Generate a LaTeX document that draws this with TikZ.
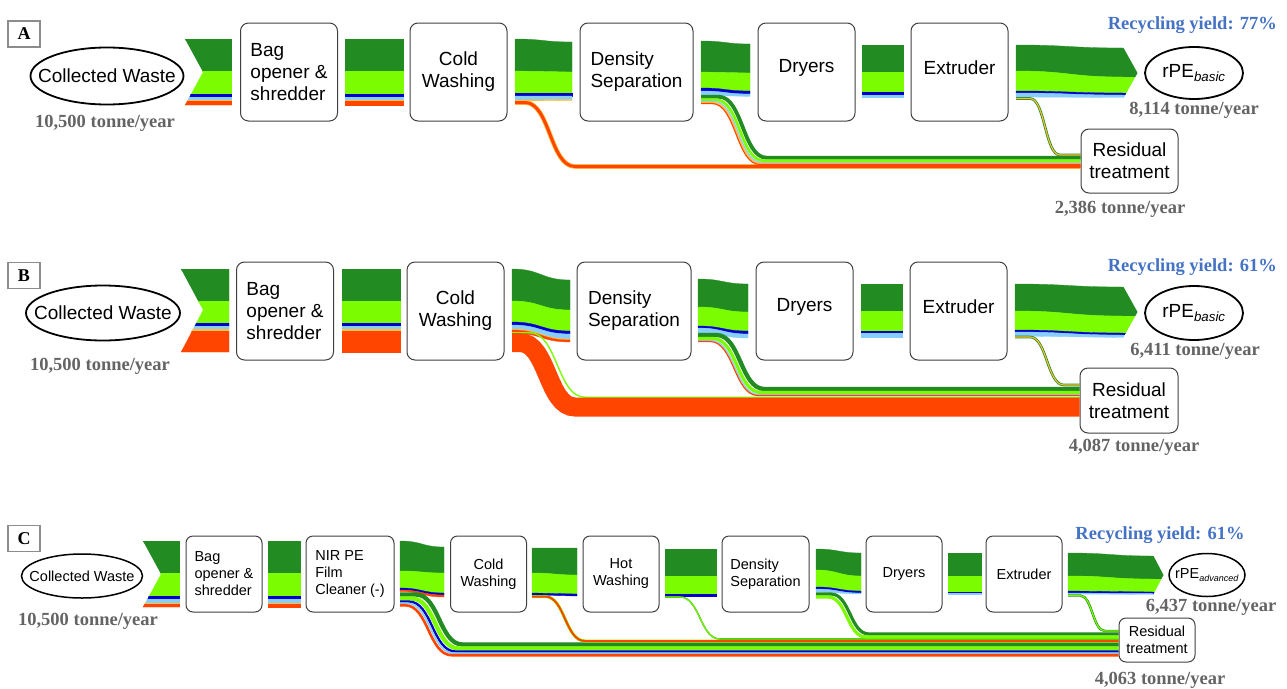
\documentclass[tikz,border=0pt]{standalone}
\usepackage{fontspec}
\setmainfont{Liberation Serif}
\setsansfont{Liberation Sans}
\usepackage{xcolor}
\usepackage{tikz}
\usetikzlibrary{shapes.geometric}

\definecolor{dkg}{RGB}{34,139,34}
\definecolor{ltg}{RGB}{124,252,0}
\definecolor{blu}{RGB}{0,0,205}
\definecolor{lbl}{RGB}{135,206,250}
\definecolor{yel}{RGB}{255,190,60}
\definecolor{org}{RGB}{255,69,0}
\definecolor{numgray}{RGB}{100,100,100}
\definecolor{yieldblue}{RGB}{68,114,196}

% one coloured layer of a flow: x1, x2, colour, top/bottom left, top/bottom right
\newcommand{\band}[7]{%
  \fill[fill=#3, draw=#3, line width=0.3] (#1,#4) .. controls ({(#1+#2)/2},#4) and ({(#1+#2)/2},#6) .. (#2,#6)
    -- (#2,#7) .. controls ({(#1+#2)/2},#7) and ({(#1+#2)/2},#5) .. (#1,#5) -- cycle;}
% stream going down to a residual box: style, x0, bend start, bend end, y left, y bottom, node
\newcommand{\drop}[7]{%
  \draw[#1] (#2,#5) -- (#3,#5) .. controls ({(#3+#4)/2},#5) and ({(#3+#4)/2},#6) .. (#4,#6)
    -- (#7.west |- 0,#6);}

\begin{document}
\begin{tikzpicture}[x=1pt, y=-1pt,
  box/.style={draw=black!75, fill=white, rounded corners=8pt, line width=1pt,
    minimum width=97pt, minimum height=98pt, inner sep=2pt, align=center,
    font=\fontsize{19}{22}\selectfont\sffamily},
  boxc/.style={box, rounded corners=7pt, minimum width=76pt, minimum height=76pt,
    font=\fontsize{14.5}{17}\selectfont\sffamily},
  oval/.style={ellipse, draw, line width=1.8pt, inner sep=0pt,
    font=\fontsize{19}{22}\selectfont\sffamily},
  tonne/.style={inner sep=0pt, text=numgray, font=\fontsize{18.5}{20}\selectfont\bfseries},
  yield/.style={inner sep=0pt, text=yieldblue, font=\fontsize{18.5}{20}\selectfont\bfseries},
  tag/.style={draw=black!45, line width=1.6pt, minimum width=32pt, minimum height=26pt,
    inner sep=0pt, font=\fontsize{18}{18}\selectfont\bfseries},
]
\useasboundingbox (0,0) rectangle (1287,688);

% ---------------- A ----------------
\node[tag] (tagA) at (24,34) {A};
\node[oval, minimum width=153pt, minimum height=57pt] (wasteA) at (107,76) {\makebox[0pt]{Collected Waste}};
\node[tonne] (inA) at (105,123) {10,500 tonne/year};
\node[box, align=left] (bagA) at (289,72) {Bag\\opener \&\\shredder};
\node[box] (coldA) at (458.5,72) {Cold\\Washing};
\node[box, minimum width=113pt, align=left] (densA) at (636.5,72) {Density\\Separation};
\node[box] (dryA) at (806.5,72) {\raisebox{4pt}[\height][\depth]{Dryers}};
\node[box] (extA) at (959.5,72) {\raisebox{4pt}[\height][\depth]{Extruder}};
\node[oval, minimum width=98pt, minimum height=52pt] (rpeA) at (1194,73) {\makebox[0pt]{rPE\textsubscript{\itshape basic}}};
\node[yield, anchor=east] (yieldA) at (1277,25) {Recycling yield: 77\%};
\node[tonne] (outA) at (1194,110) {8,114 tonne/year};
\node[box, minimum height=64pt] (resA) at (1129.5,161) {Residual\\treatment};
\node[tonne] (lossA) at (1120,209) {2,386 tonne/year};

\def\layA{dkg/39/71, ltg/71/94, blu/94/97, lbl/97/100, yel/100/101.5, org/101.5/105}
\begin{scope}
  \clip (185,39) -- (232,39) -- (232,105) -- (185,105) -- (203,72) -- cycle;
  \foreach \col/\ya/\yb in \layA {\band{185}{232}{\col}{\ya}{\yb}{\ya}{\yb}}
\end{scope}
\foreach \col/\ya/\yb in \layA {\band{345}{403}{\col}{\ya}{\yb}{\ya}{\yb}}
\foreach \col/\ya/\yb/\yp/\yq in {dkg/39/71/42/72, ltg/71/93/72/93, blu/93/96/93/96, lbl/96/100/96/99.5, yel/100/101/99.5/100.5}
  {\band{515}{572}{\col}{\ya}{\yb}{\yp}{\yq}}
\drop{draw=yel, line width=4.6}{515}{525}{575}{102.5}{166.5}{resA}
\drop{draw=org, line width=3}{515}{525}{575}{102.5}{166.5}{resA}
\foreach \col/\ya/\yb/\yp/\yq in {dkg/41/72/44/73, ltg/72/88/73/91, blu/88/91/91/94, lbl/91/95/94/96.5}
  {\band{701}{750}{\col}{\ya}{\yb}{\yp}{\yq}}
\foreach \col/\lw/\off in {dkg/3.8/6.75, ltg/2.8/3.75, lbl/1.3/2, yel/1.3/1, org/1.2/0}
  {\drop{draw=\col, line width=\lw}{701}{712+\off}{760+\off}{103.5-\off}{164.5-\off}{resA}}
\foreach \col/\ya/\yb in {dkg/45/72, ltg/72/92, blu/92/95, lbl/95/97} {\band{862}{903}{\col}{\ya}{\yb}{\ya}{\yb}}
\begin{scope}
  \clip (1010,40) -- (1123,40) -- (1123,47) -- (1137.5,73) -- (1123,99) -- (1123,110) -- (1010,110) -- cycle;
  \foreach \col/\ya/\yb/\yp/\yq in {dkg/45/71/48/77, ltg/71/91/77/93, blu/91/93/93/95, lbl/93/97/95/97.5}
    {\band{1016}{1123}{\col}{\ya}{\yb}{\yp}{\yq} \fill[fill=\col] (1122.5,\yp) rectangle (1140,\yq);}
\end{scope}
\drop{draw=dkg, line width=2.6}{1016}{1030}{1060}{98.5}{155}{resA}
\drop{draw=yel, line width=1.1}{1016}{1030}{1060}{98.5}{155}{resA}

% ---------------- B ----------------
\node[tag] (tagB) at (24,275.5) {B};
\node[oval, minimum width=154pt, minimum height=55pt] (wasteB) at (103,313) {\makebox[0pt]{Collected Waste}};
\node[tonne] (inB) at (100,366) {10,500 tonne/year};
\node[box, align=left] (bagB) at (285,311) {Bag\\opener \&\\shredder};
\node[box] (coldB) at (455.5,311) {Cold\\Washing};
\node[box, minimum width=114pt, align=left] (densB) at (634,311) {Density\\Separation};
\node[box] (dryB) at (804.5,311) {\raisebox{4pt}[\height][\depth]{Dryers}};
\node[box] (extB) at (958.5,311) {\raisebox{4pt}[\height][\depth]{Extruder}};
\node[oval, minimum width=98pt, minimum height=54pt] (rpeB) at (1194,313) {\makebox[0pt]{rPE\textsubscript{\itshape basic}}};
\node[yield, anchor=east] (yieldB) at (1277,267) {Recycling yield: 61\%};
\node[tonne] (outB) at (1195,351) {6,411 tonne/year};
\node[box, minimum width=98pt, minimum height=65pt] (resB) at (1129,400.5) {Residual\\treatment};
\node[tonne] (lossB) at (1134,447) {4,087 tonne/year};

\def\layB{dkg/269/301, ltg/301/323, blu/323/326, lbl/326/329, yel/329/331, org/331/352}
\begin{scope}
  \clip (181,269) -- (229,269) -- (229,352) -- (181,352) -- (203,310) -- cycle;
  \foreach \col/\ya/\yb in \layB {\band{181}{229}{\col}{\ya}{\yb}{\ya}{\yb}}
\end{scope}
\foreach \col/\ya/\yb in \layB {\band{342}{400}{\col}{\ya}{\yb}{\ya}{\yb}}
\foreach \col/\ya/\yb/\yp/\yq in {dkg/269/301/280/310, ltg/301/322/310/331, blu/322/325/331/334, lbl/325/329/334/339, yel/329/330/339/340, org/330/333/340/342}
  {\band{512}{570}{\col}{\ya}{\yb}{\yp}{\yq}}
\foreach \col/\lw/\off in {ltg/1.4/9.8, org/19/0}
  {\drop{draw=\col, line width=\lw}{512}{520+\off}{575+\off}{342.5-\off}{407-\off}{resB}}
\foreach \col/\ya/\yb/\yp/\yq in {dkg/279/307/284/312, ltg/307/326/312/331, blu/326/328/331/334, lbl/328/333/334/338}
  {\band{698}{748}{\col}{\ya}{\yb}{\yp}{\yq}}
\foreach \col/\lw/\off in {dkg/4.3/6.5, ltg/3.3/3, lbl/1.3/1, org/1.2/0}
  {\drop{draw=\col, line width=\lw}{698}{710+\off}{758+\off}{341.5-\off}{395.5-\off}{resB}}
\foreach \col/\ya/\yb in {dkg/284/311, ltg/311/331, blu/331/333, lbl/333/337} {\band{861}{902}{\col}{\ya}{\yb}{\ya}{\yb}}
\begin{scope}
  \clip (1008,275) -- (1123,275) -- (1123,286) -- (1137.5,312) -- (1123,338) -- (1123,345) -- (1008,345) -- cycle;
  \foreach \col/\ya/\yb/\yp/\yq in {dkg/284/311/287/316, ltg/311/330/316/333, blu/330/332/333/335, lbl/332/336/335/337.5}
    {\band{1015}{1123}{\col}{\ya}{\yb}{\yp}{\yq} \fill[fill=\col] (1122.5,\yp) rectangle (1140,\yq);}
\end{scope}
\drop{draw=dkg, line width=2.6}{1015}{1030}{1064}{337}{385}{resB}
\drop{draw=yel, line width=1.1}{1015}{1030}{1064}{337}{385}{resB}

% ---------------- C ----------------
\node[tag] (tagC) at (24,538.5) {C};
\node[oval, minimum width=121pt, minimum height=44pt, line width=1.5pt, font=\fontsize{14.5}{17}\selectfont\sffamily] (wasteC) at (82,576) {\makebox[0pt]{Collected Waste}};
\node[tonne] (inC) at (88,621) {10,500 tonne/year};
\node[boxc, align=left] (bagC) at (224,574) {Bag\\opener \&\\shredder};
\node[boxc, minimum width=88pt, align=left] (nirC) at (350,574) {NIR PE\\Film\\Cleaner (-)};
\node[boxc] (coldC) at (488.5,574) {Cold\\Washing};
\node[boxc] (hotC) at (621,574) {Hot\\Washing};
\node[boxc, minimum width=87pt, align=left] (densC) at (765.5,574) {Density\\Separation};
\node[boxc] (dryC) at (904,574) {Dryers};
\node[boxc] (extC) at (1024,574) {Extruder};
\node[oval, minimum width=76pt, minimum height=43pt, line width=1.5pt, font=\fontsize{14.5}{17}\selectfont\sffamily] (rpeC) at (1207,575) {\makebox[0pt]{rPE\textsubscript{\fontsize{9}{9}\selectfont\itshape advanced}}};
\node[yield] (yieldC) at (1160,535) {Recycling yield: 61\%};
\node[tonne] (outC) at (1211,607) {6,437 tonne/year};
\node[boxc, minimum height=44pt] (resC) at (1157,640) {Residual\\treatment};
\node[tonne] (lossC) at (1160,680) {4,063 tonne/year};

\def\layC{dkg/541/573, ltg/573/596, blu/596/599, lbl/599/603, yel/603/604, org/604/607}
\begin{scope}
  \clip (143,541) -- (180,541) -- (180,607) -- (143,607) -- (161,574) -- cycle;
  \foreach \col/\ya/\yb in \layC {\band{143}{180}{\col}{\ya}{\yb}{\ya}{\yb}}
\end{scope}
\foreach \col/\ya/\yb in \layC {\band{268}{300}{\col}{\ya}{\yb}{\ya}{\yb}}
\foreach \col/\ya/\yb/\yp/\yq in {dkg/541/571/547/573, ltg/571/588/573/593, blu/588/590/593/595, org/590/591.5/595/597}
  {\band{400}{444}{\col}{\ya}{\yb}{\yp}{\yq}}
\foreach \col/\lw/\off in {dkg/4.3/10.75, ltg/4.3/6.75, blu/2.3/3.75, lbl/1.8/2, org/2.6/0}
  {\drop{draw=\col, line width=\lw}{400}{405+\off}{452+\off}{605.25-\off}{655.25-\off}{resC}}
\foreach \col/\ya/\yb/\yp/\yq in {dkg/548/573/548/575, ltg/573/593/575/594, blu/593/595/594/596}
  {\band{532}{577}{\col}{\ya}{\yb}{\yp}{\yq}}
\drop{draw=ltg, line width=3}{532}{545}{585}{596.5}{641}{resC}
\drop{draw=org, line width=2}{532}{545}{585}{596.5}{641}{resC}
\foreach \col/\ya/\yb in {dkg/549/576, ltg/576/594, blu/594/596} {\band{665}{716}{\col}{\ya}{\yb}{\ya}{\yb}}
\drop{draw=dkg!60!ltg, line width=1.6}{665}{680}{720}{597}{639}{resC}
\drop{draw=ltg, line width=0.8}{665}{680}{720}{597}{639}{resC}
\foreach \col/\ya/\yb/\yp/\yq in {dkg/549/570/553/576, ltg/570/587/576/591, blu/587/589/591/593, lbl/589/592/593/594}
  {\band{816}{861}{\col}{\ya}{\yb}{\yp}{\yq}}
\foreach \col/\off in {dkg/3, ltg/0}
  {\drop{draw=\col, line width=3.2}{816}{828+\off}{866+\off}{597-\off}{637-\off}{resC}}
\foreach \col/\ya/\yb in {dkg/553/576, ltg/576/592, blu/592/593, lbl/593/594} {\band{948}{981}{\col}{\ya}{\yb}{\ya}{\yb}}
\begin{scope}
  \clip (1060,545) -- (1153,545) -- (1153,555) -- (1163.5,575) -- (1153,595) -- (1153,600) -- (1060,600) -- cycle;
  \foreach \col/\ya/\yb/\yp/\yq in {dkg/553/576/556/579, ltg/576/591/579/592, blu/591/593/592/593.5, lbl/593/594/593.5/594.5}
    {\band{1068}{1153}{\col}{\ya}{\yb}{\yp}{\yq} \fill[fill=\col] (1152.5,\yp) rectangle (1165,\yq);}
\end{scope}
\drop{draw=dkg, line width=2.4}{1068}{1080}{1105}{595.5}{631}{resC}
\drop{draw=ltg, line width=1.2}{1068}{1080}{1105}{595.5}{631}{resC}

\end{tikzpicture}
\end{document}
